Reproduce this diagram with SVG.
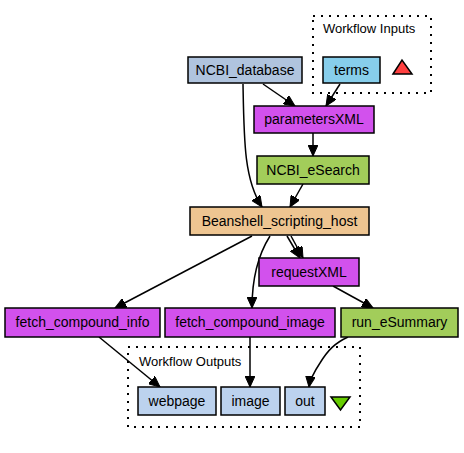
<svg xmlns="http://www.w3.org/2000/svg" width="464" height="453" viewBox="0 0 464 453">
<style>
.n{stroke:#000;stroke-width:1.5}
.t{font-family:"Liberation Sans",Arial,sans-serif;font-size:14px;text-anchor:middle;fill:#000}
.cl{fill:none;stroke:#000;stroke-width:2;stroke-dasharray:2,6}
.ct{font-family:"Liberation Sans",Arial,sans-serif;font-size:13px;fill:#000}
.e{fill:none;stroke:#000;stroke-width:1.5}
.purple{fill:#d251ed}
.green{fill:#a2cd5a}
.out{fill:#bcd2ee}
</style>
<defs>
<marker id="a" markerUnits="userSpaceOnUse" markerWidth="12" markerHeight="10" refX="11" refY="5" orient="auto">
<path d="M0,0 L11,5 L0,10 z" fill="#000" stroke="#000" stroke-width="1"/>
</marker>
</defs>
<rect width="464" height="453" fill="#fff"/>
<g id="cluster_inputs">
<rect class="cl" x="313" y="16" width="118" height="77"/>
<text class="ct" x="323" y="33">Workflow Inputs</text>
<polygon points="393,74 402,60 412,74" fill="#ff4040" stroke="#000" stroke-width="1.5"/>
</g>
<g id="cluster_outputs">
<rect class="cl" x="128" y="347" width="232" height="80"/>
<text class="ct" x="139" y="366">Workflow Outputs</text>
<polygon points="331,397 350,397 340.5,410" fill="#66cc00" stroke="#000" stroke-width="1.5"/>
</g>
<g id="edges">
<path class="e" marker-end="url(#a)" d="M263,84 L295,106"/>
<path class="e" marker-end="url(#a)" d="M340,84 L326,106"/>
<path class="e" marker-end="url(#a)" d="M243,84 C244,140 244,180 262,207"/>
<path class="e" marker-end="url(#a)" d="M313,133 L313,156"/>
<path class="e" marker-end="url(#a)" d="M303,184 L290,207"/>
<path class="e" marker-end="url(#a)" d="M252,236 L115,308"/>
<path class="e" marker-end="url(#a)" d="M270,236 C258,255 252,280 252,308"/>
<path class="e" marker-end="url(#a)" d="M287,236 L300,258"/>
<path class="e" marker-end="url(#a)" d="M291,236 L303,258"/>
<path class="e" marker-end="url(#a)" d="M333,286 L373,308"/>
<path class="e" marker-end="url(#a)" d="M99,337 L160,387"/>
<path class="e" marker-end="url(#a)" d="M250,337 L250,387"/>
<path class="e" marker-end="url(#a)" d="M348,337 C335,343 328,350 320,363 C314,372 310,380 309,387"/>
</g>
<g id="NCBI_database">
<rect class="n" x="188" y="57" width="114" height="26" fill="#b0c4de"/>
<text class="t" x="245" y="75">NCBI_database</text>
</g>
<g id="terms">
<rect class="n" x="323" y="57" width="57" height="26" fill="#87ceeb"/>
<text class="t" x="351.5" y="75">terms</text>
</g>
<g id="parametersXML">
<rect class="n purple" x="254" y="106" width="120" height="27"/>
<text class="t" x="314" y="124">parametersXML</text>
</g>
<g id="NCBI_eSearch">
<rect class="n green" x="257" y="156" width="112" height="28"/>
<text class="t" x="313" y="175">NCBI_eSearch</text>
</g>
<g id="Beanshell_scripting_host">
<rect class="n" x="190" y="207" width="179" height="28" fill="#eec591"/>
<text class="t" x="279.5" y="226">Beanshell_scripting_host</text>
</g>
<g id="requestXML">
<rect class="n purple" x="259" y="258" width="100" height="28"/>
<text class="t" x="309" y="277">requestXML</text>
</g>
<g id="fetch_compound_info">
<rect class="n purple" x="5" y="308" width="155" height="29"/>
<text class="t" x="82.5" y="327">fetch_compound_info</text>
</g>
<g id="fetch_compound_image">
<rect class="n purple" x="165" y="308" width="170" height="29"/>
<text class="t" x="250" y="327">fetch_compound_image</text>
</g>
<g id="run_eSummary">
<rect class="n green" x="341" y="308" width="117" height="29"/>
<text class="t" x="399.5" y="327">run_eSummary</text>
</g>
<g id="webpage">
<rect class="n out" x="138" y="387" width="78" height="28"/>
<text class="t" x="177" y="406">webpage</text>
</g>
<g id="image">
<rect class="n out" x="221" y="387" width="59" height="28"/>
<text class="t" x="250.5" y="406">image</text>
</g>
<g id="out">
<rect class="n out" x="285" y="387" width="40" height="28"/>
<text class="t" x="305" y="406">out</text>
</g>
</svg>
